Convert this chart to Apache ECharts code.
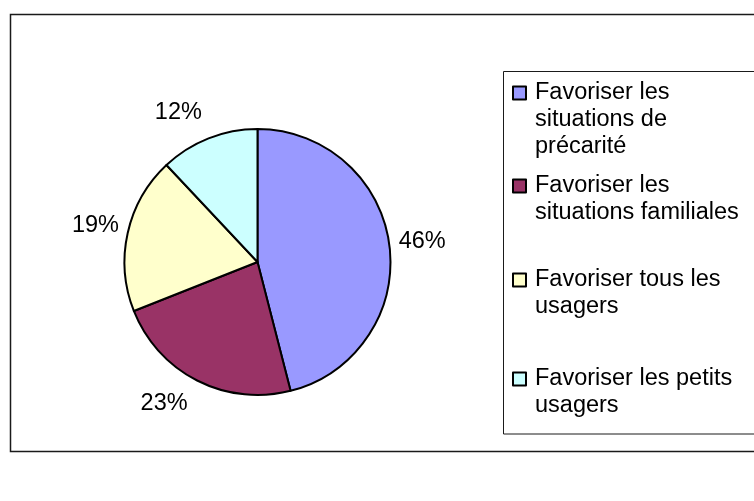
<!DOCTYPE html>
<html>
<head>
<meta charset="utf-8">
<script src="https://cdn.jsdelivr.net/npm/echarts@6/dist/echarts.min.js"></script>
<style>
  html, body { margin: 0; padding: 0; background: #ffffff; }
  #chart { width: 754px; height: 501px; }
</style>
</head>
<body>
<div id="chart"></div>
<script>
// Répartition des réponses
const categories = [
  'Favoriser les situations de précarité',
  'Favoriser les situations familiales',
  'Favoriser tous les usagers',
  'Favoriser les petits usagers'
];
const legendLines = [
  ['Favoriser les', 'situations de', 'précarité'],
  ['Favoriser les', 'situations familiales'],
  ['Favoriser tous les', 'usagers'],
  ['Favoriser les petits', 'usagers']
];
const shares = [46, 23, 19, 12];
const sliceColors = ['#9999FF', '#993366', '#FFFFCC', '#CCFFFF'];

// Layout settings
const FONT = '"Liberation Sans", Arial, sans-serif';
const FS = 23.5;
const LH = 26.7;
const ICON = 13;
const PIE_CENTER = [257.5, 262];
const PIE_R = 133;
const LABEL_DIST = 166;
const labelNudge = [[0, 0], [-18, -6], [0, 0], [-18, 5]];
const legendItemTops = [86.5, 179.5, 273.5, 372.5];

const total = shares.reduce((a, b) => a + b, 0);

const chart = echarts.init(document.getElementById('chart'), null, { renderer: 'canvas' });

// One legend block per entry; blank leading lines keep the marker level with the first text line.
const legends = categories.map((name, i) => {
  const n = legendLines[i].length;
  const boxH = (2 * n - 1) * LH;
  return {
    data: [name],
    orient: 'vertical',
    left: 512,
    top: legendItemTops[i] + ICON / 2 - boxH / 2,
    padding: 0,
    itemWidth: ICON,
    itemHeight: ICON,
    icon: 'rect',
    selectedMode: false,
    itemStyle: { borderColor: '#000', borderWidth: 2 },
    formatter: () => '\n'.repeat(n - 1) + legendLines[i].join('\n'),
    textStyle: {
      fontFamily: FONT,
      fontSize: FS,
      lineHeight: LH,
      color: '#000',
      padding: [0, 0, 0, 4]
    }
  };
});

chart.setOption({
  animation: false,
  backgroundColor: '#ffffff',
  graphic: [
    {
      type: 'rect',
      shape: { x: 10.5, y: 14.5, width: 800, height: 437 },
      style: { fill: 'none', stroke: '#1a1a1a', lineWidth: 1.5 },
      silent: true,
      z: -10
    },
    {
      type: 'rect',
      shape: { x: 503.5, y: 71.5, width: 300, height: 362.5 },
      style: { fill: 'none', stroke: '#1a1a1a', lineWidth: 1 },
      silent: true,
      z: -10
    }
  ],
  legend: legends,
  series: [{
    type: 'pie',
    center: PIE_CENTER,
    radius: PIE_R,
    startAngle: 90,
    clockwise: true,
    avoidLabelOverlap: false,
    emphasis: { disabled: true },
    data: categories.map((name, i) => ({
      name: name,
      value: shares[i],
      itemStyle: { color: sliceColors[i] }
    })),
    itemStyle: { borderColor: '#000', borderWidth: 2 },
    label: {
      show: true,
      position: 'outside',
      formatter: '{c}%',
      fontFamily: FONT,
      fontSize: FS,
      color: '#000'
    },
    labelLine: { show: false },
    labelLayout: function (params) {
      const i = params.dataIndex;
      let before = 0;
      for (let k = 0; k < i; k++) before += shares[k];
      const mid = (before + shares[i] / 2) / total * Math.PI * 2;
      return {
        x: PIE_CENTER[0] + LABEL_DIST * Math.sin(mid) + labelNudge[i][0],
        y: PIE_CENTER[1] - LABEL_DIST * Math.cos(mid) + labelNudge[i][1],
        align: 'center',
        verticalAlign: 'middle'
      };
    }
  }]
});
</script>
</body>
</html>
